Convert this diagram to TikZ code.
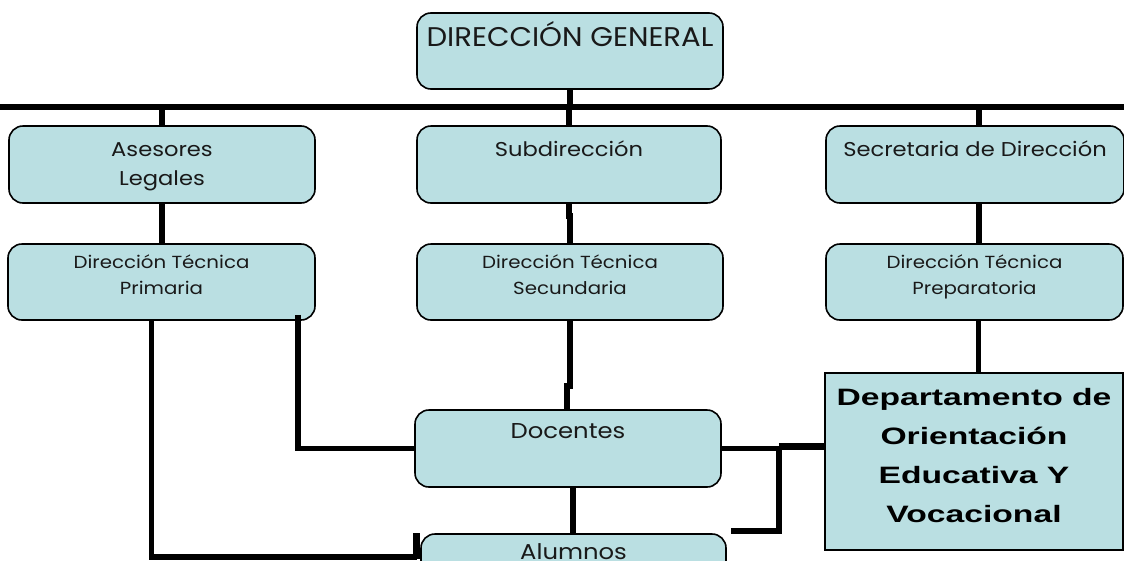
\documentclass[tikz,border=0pt]{standalone}
\usepackage{fontspec}
\setmainfont{Poppins}[FakeStretch=1.13]
\newfontfamily\dgfont{Poppins}[FakeStretch=1.08]
\newfontfamily\deptfont{Liberation Sans}[FakeStretch=1.42]
\usetikzlibrary{calc}
\definecolor{boxfill}{RGB}{186,223,226}
\definecolor{txt}{RGB}{25,25,25}
\tikzset{
  rbox/.style={draw=black, line width=1.6pt, fill=boxfill, rounded corners=14pt, inner sep=0pt},
  sbox/.style={draw=black, line width=1.6pt, fill=boxfill, inner sep=0pt},
  conn/.style={draw=black, line width=5.5pt},
  thickconn/.style={draw=black, line width=7pt},
  toptext/.style={anchor=north, inner sep=0pt, align=center, text=txt},
  rowone/.style={toptext, font=\fontsize{20}{29}\selectfont},
  rowtwo/.style={toptext, font=\fontsize{17.5}{25.5}\selectfont},
}
\begin{document}
\begin{tikzpicture}[x=1pt,y=-1pt]
\useasboundingbox (0,0) rectangle (1124,560);
% boxes
\node[rbox, minimum width=306pt, minimum height=76pt,
  label={[toptext, font=\dgfont\fontsize{27}{32}\selectfont, yshift=-9pt]north:DIRECCIÓN GENERAL}] (dg) at (570,51) {};
\node[rbox, minimum width=306pt, minimum height=77pt,
  label={[rowone, yshift=-17pt]north:Asesores\\Legales}] (ase) at (162,164.5) {};
\node[rbox, minimum width=304pt, minimum height=77pt,
  label={[rowone, yshift=-15.5pt]north:Subdirección}] (sub) at (569,164.5) {};
\node[rbox, minimum width=298pt, minimum height=77pt,
  label={[rowone, yshift=-15.5pt]north:Secretaria de Dirección}] (sec) at (975,164.5) {};
\node[rbox, minimum width=307pt, minimum height=76pt,
  label={[rowtwo, yshift=-11.5pt]north:Dirección Técnica\\Primaria}] (pri) at (161.5,282) {};
\node[rbox, minimum width=306pt, minimum height=76pt,
  label={[rowtwo, yshift=-11.5pt]north:Dirección Técnica\\Secundaria}] (secu) at (570,282) {};
\node[rbox, minimum width=297pt, minimum height=76pt,
  label={[rowtwo, yshift=-11.5pt]north:Dirección Técnica\\Preparatoria}] (pre) at (974.5,282) {};
\node[rbox, minimum width=306pt, minimum height=77pt,
  label={[toptext, font=\fontsize{21.5}{29}\selectfont, yshift=-14pt]north:Docentes}] (doc) at (568,448.5) {};
\node[rbox, minimum width=305pt, minimum height=76pt,
  label={[toptext, font=\fontsize{21.5}{29}\selectfont, yshift=-10.5pt]north:Alumnos}] (alu) at (573.5,572) {};
\node[sbox, minimum width=298pt, minimum height=177pt,
  label={[anchor=center, inner sep=0pt, align=center, text=black, yshift=5.5pt,
    font=\deptfont\bfseries\fontsize{23.7}{39}\selectfont]center:Departamento de\\Orientación\\Educativa Y\\Vocacional}] (dept) at (974,461.5) {};
% top bus
\coordinate (busL) at (0,107);
\coordinate (busR) at (1124,107);
\draw[conn] (busL) -- (busR);
\draw[conn] (dg.south) -- (dg.south |- busR);
\draw[conn] (ase.north |- busL) -- (ase.north);
\draw[conn] (sub.north |- busL) -- (sub.north);
\draw[conn] ([xshift=4pt]sec.north |- busL) -- ([xshift=4pt]sec.north);
% row1 -> row2
\draw[conn] (ase.south) -- (ase.south |- pri.north);
\draw[conn] (sub.south) -- ++(0,12) -- ++(1,0) -- (secu.north);
\draw[conn] ([xshift=4pt]sec.south) -- ([xshift=4pt]sec.south |- pre.north);
% row2 -> lower
\draw[conn] (secu.south) -- ++(0,65) -- ++(-3,0) -- (doc.north -| 567,0);
\draw[conn] ([xshift=5pt]doc.south) -- ([xshift=5pt]doc.south |- alu.north);
\draw[conn] ([xshift=4pt]pre.south) -- ([xshift=4pt]pre.south |- dept.north);
\draw[conn] ([xshift=-10pt]pri.south) |- ([xshift=-3pt]alu.west |- 0,557);
\draw[thickconn] ([xshift=-4pt]alu.north west) -- ++(0,26);
\draw[conn] ([xshift=-18pt,yshift=6pt]pri.south east) |- (doc.west);
\draw[conn] (doc.east) -- ++(57,0) coordinate (j1);
\draw[thickconn] ([yshift=2pt]j1) -- ([yshift=2pt]j1 -| dept.west);
\draw[conn] ([yshift=2pt]j1) |- ([xshift=4pt,yshift=2pt]alu.north east);
\end{tikzpicture}
\end{document}
